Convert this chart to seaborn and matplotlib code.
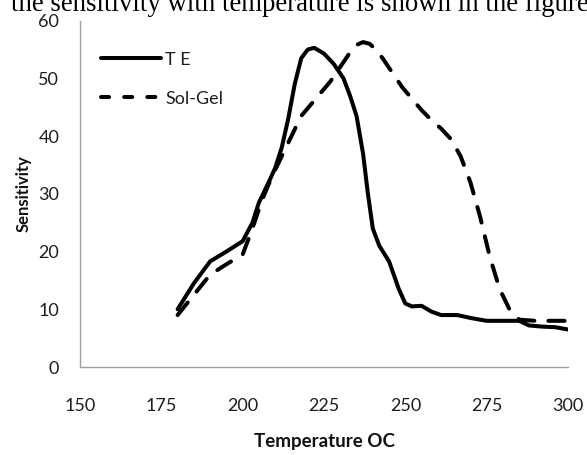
import pandas as pd
import matplotlib
matplotlib.use("Agg")
import matplotlib.pyplot as plt
from matplotlib.lines import Line2D
import seaborn as sns


# --------- data --------- #
te_temp = [180, 185, 190, 195, 200, 203, 205, 208, 210, 212, 214, 216, 218, 220, 222,
           225, 228, 231, 233, 235, 237, 238.5, 240, 242, 245, 248, 250, 252, 255, 258,
           261, 266, 270, 275, 280, 285, 288, 292, 296, 300]
te_sens = [10, 14.5, 18.3, 20, 21.8, 25, 28.5, 32, 34.5, 38, 43, 49, 53.5, 55, 55.3,
           54.3, 52.5, 50, 47, 43.5, 37, 30, 24, 21, 18.3, 13.5, 11, 10.5, 10.6, 9.6,
           9, 9, 8.5, 8, 8, 8, 7.2, 7, 6.9, 6.5]

sg_temp = [180, 185, 190, 195, 200, 203, 206, 209, 212, 215, 218, 221, 224, 227, 230,
           233, 235, 237, 239, 241, 243, 246, 249, 252, 255, 258, 261, 264, 267, 270,
           273, 276, 279, 282, 285, 290, 295, 300]
sg_sens = [9, 12.5, 16, 17.8, 19.5, 24, 29, 33, 36.5, 40, 43.5, 45.5, 47.5, 49.5, 52,
           54.5, 55.8, 56.3, 56, 55, 53.5, 51, 48.5, 46.5, 44.5, 42.8, 41.3, 39.5, 36.5, 32,
           26, 19, 13.5, 10, 8.2, 8, 8, 8]

SERIES = ["T E", "Sol-Gel"]
X_TICKS = [150, 175, 200, 225, 250, 275, 300]
Y_TICKS = [0, 10, 20, 30, 40, 50, 60]

df = pd.concat([
    pd.DataFrame({"temp": te_temp, "sens": te_sens, "series": SERIES[0]}),
    pd.DataFrame({"temp": sg_temp, "sens": sg_sens, "series": SERIES[1]}),
])

# --------- style --------- #
sns.set_style("white")
plt.rcParams["font.family"] = ["Lato", "DejaVu Sans"]
plt.rcParams["lines.solid_capstyle"] = "round"
plt.rcParams["lines.dash_capstyle"] = "round"
plt.rcParams["lines.solid_joinstyle"] = "round"
plt.rcParams["lines.dash_joinstyle"] = "round"

AXIS_GREY = "#a0a0a0"
LW = 2.9

fig = plt.figure(figsize=(5.87, 4.55), dpi=100)
ax = fig.add_axes([80 / 587, 1 - 367 / 455, 488 / 587, 346.3 / 455])

sns.lineplot(data=df, x="temp", y="sens", style="series", color="black",
             dashes={SERIES[0]: "", SERIES[1]: (4, 3.5)}, linewidth=LW,
             sort=False, legend=False, ax=ax)

ax.set_xlim(150, 300)
ax.set_ylim(0, 60)
ax.set_xticks(X_TICKS)
ax.set_yticks(Y_TICKS)

for side in ["top", "right"]:
    ax.spines[side].set_visible(False)
for side in ["left", "bottom"]:
    ax.spines[side].set_color(AXIS_GREY)
    ax.spines[side].set_linewidth(1.0)

ax.tick_params(axis="both", which="major", direction="out", length=6, width=1.0,
               color=AXIS_GREY, labelsize=13, labelcolor="#1e1e1e")
ax.tick_params(axis="x", pad=16)
ax.tick_params(axis="y", pad=9)

ax.set_xlabel("Temperature OC", fontsize=13.5, fontweight="bold", color="#111111")
ax.set_ylabel("Sensitivity", fontsize=12, fontweight="bold", color="#111111")
ax.xaxis.set_label_coords(0.5, -(441 - 367) / 346.3)
ax.yaxis.set_label_coords(-(80 - 24) / 488, 0.5)
ax.xaxis.label.set_va("center")
ax.yaxis.label.set_va("center")

# legend, drawn the way the original chart shows it
handles = [
    Line2D([], [], color="black", linewidth=LW),
    Line2D([], [], color="black", linewidth=LW, dashes=(2, 3.75)),
]
ax.legend(handles, SERIES, loc="upper left", bbox_to_anchor=(21 / 488, 1 - 31 / 346.3),
          frameon=False, fontsize=13, handlelength=3.3, handletextpad=0.25,
          labelspacing=1.28, borderpad=0, borderaxespad=0, labelcolor="#1e1e1e")

# cropped line of body text above the chart
fig.text(11 / 587, 1 - 11 / 455, "the sensitivity with temperature is shown in the figure",
         family="Liberation Serif", fontsize=19.3, va="baseline", ha="left", color="black")

fig.savefig("out.png", dpi=100)
